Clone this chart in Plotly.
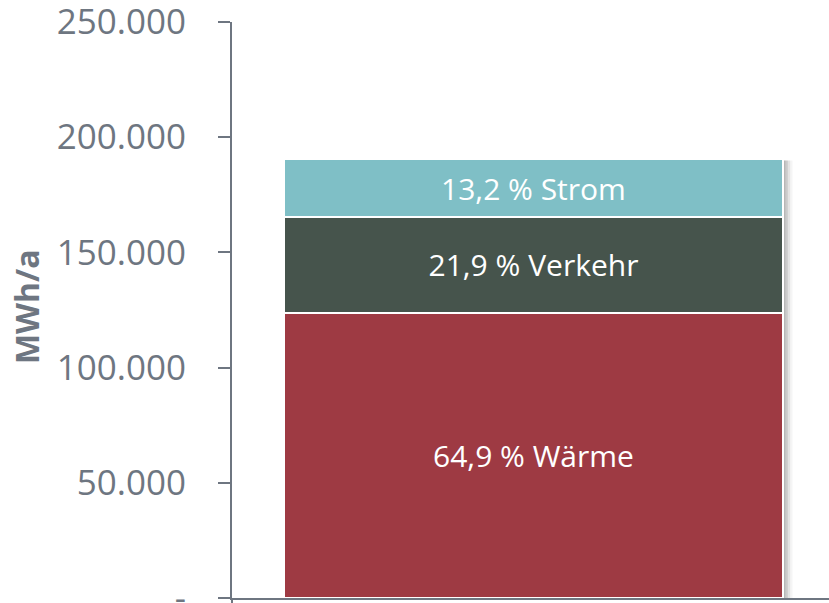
import plotly.graph_objects as go

# Energy demand by sector (MWh/a)
sectors = ["Wärme", "Verkehr", "Strom"]
values = [123700, 41700, 25100]
shares = ["64,9 %", "21,9 %", "13,2 %"]
colors = ["#9e3a43", "#46544c", "#7fbfc6"]

tick_vals = [0, 50000, 100000, 150000, 200000, 250000]
tick_text = ["-", "50.000", "100.000", "150.000", "200.000", "250.000"]

axis_grey = "#6e7681"
bar_x = 0.005
bar_w = 0.836

fig = go.Figure()

# soft drop shadow to the right of the stacked column
total = sum(values)
for off, op in [(0.004, 0.10), (0.008, 0.10), (0.012, 0.07), (0.016, 0.04)]:
    fig.add_shape(
        type="rect", xref="x", yref="y",
        x0=bar_x - bar_w / 2 + off, x1=bar_x + bar_w / 2 + off,
        y0=0, y1=total - 600,
        fillcolor="black", opacity=op, line_width=0, layer="below",
    )

for name, val, share, col in zip(sectors, values, shares, colors):
    fig.add_trace(go.Bar(
        x=[bar_x], y=[val], width=bar_w, name=name,
        marker=dict(color=col, line=dict(color="white", width=2)),
        text=[f"{share} {name}"], textposition="inside",
        insidetextanchor="middle", textangle=0,
        textfont=dict(color="white", size=30, family="Open Sans"),
        showlegend=False, hoverinfo="skip",
    ))

fig.update_layout(
    barmode="stack",
    width=829, height=603,
    margin=dict(l=232, r=0, t=22, b=5, autoexpand=False),
    paper_bgcolor="white", plot_bgcolor="white",
    font=dict(family="Open Sans", color=axis_grey),
    xaxis=dict(
        range=[-0.5, 0.5], showgrid=False, zeroline=False,
        showline=True, linecolor=axis_grey, linewidth=2,
        tickvals=[-0.5], ticks="outside", ticklen=6, tickcolor=axis_grey,
        tickwidth=2, showticklabels=False, automargin=False,
    ),
    yaxis=dict(
        range=[0, 250000], showgrid=False, zeroline=False,
        showline=True, linecolor=axis_grey, linewidth=2,
        tickvals=tick_vals, ticktext=tick_text,
        ticks="outside", ticklen=12, tickcolor=axis_grey, tickwidth=2,
        tickfont=dict(size=35, color=axis_grey, family="Open Sans"),
        ticklabelstandoff=25, ticklabeloverflow="allow", automargin=False,
    ),
    annotations=[dict(
        text="<b>MWh/a</b>", xref="paper", yref="paper",
        x=(26 - 232) / 597, y=0.505, textangle=-90,
        showarrow=False, xanchor="center", yanchor="middle",
        font=dict(size=32, color=axis_grey, family="Open Sans"),
    )],
)

fig.write_html("out.html")
